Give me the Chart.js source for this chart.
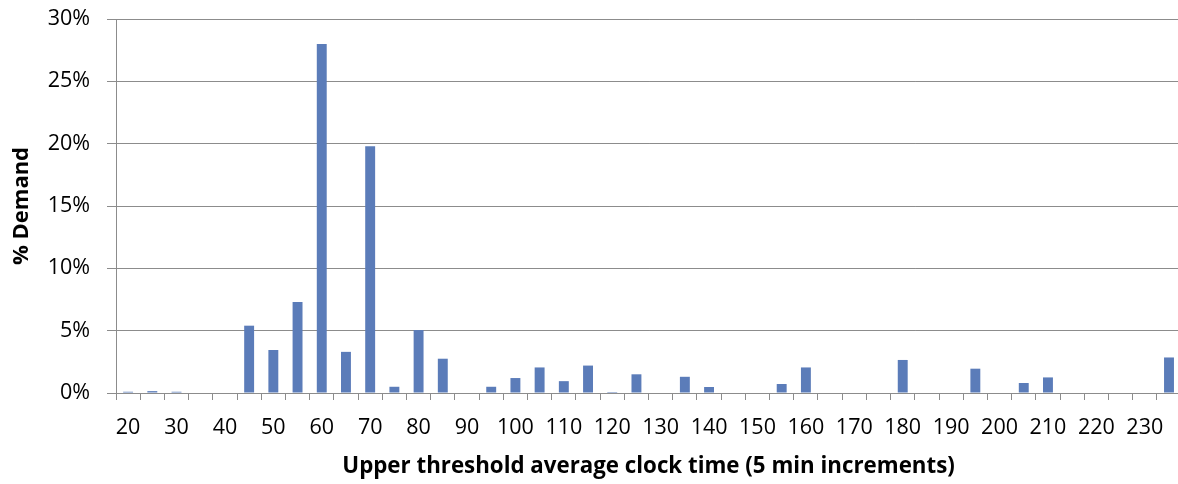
<!DOCTYPE html>
<html>
<head>
<meta charset="utf-8">
<script src="https://cdn.jsdelivr.net/npm/chart.js@4/dist/chart.umd.min.js"></script>
<style>
  html, body { margin: 0; padding: 0; background: #fff; overflow: hidden; }
  #wrap { width: 1184px; height: 484px; }
</style>
</head>
<body>
<div id="wrap"><canvas id="demandChart" width="1184" height="484"></canvas></div>
<script>
// Umbral superior (minutos, pasos de 5)
const thresholds = [20, 25, 30, 35, 40, 45, 50, 55, 60, 65, 70, 75, 80, 85, 90, 95, 100, 105, 110, 115,
    120, 125, 130, 135, 140, 145, 150, 155, 160, 165, 170, 175, 180, 185, 190, 195, 200, 205, 210, 215,
    220, 225, 230, 235];
// % de demanda por categoría
const demandPct = [0.1, 0.15, 0.1, 0, 0, 5.4, 3.45, 7.3, 28.0, 3.3, 19.8, 0.5, 5.05, 2.75, 0, 0.5, 1.2, 2.05, 0.95, 2.2,
    0.08, 1.5, 0, 1.3, 0.48, 0, 0, 0.72, 2.05, 0, 0, 0, 2.65, 0, 0, 1.95, 0, 0.8, 1.25, 0,
    0, 0, 0, 2.85];
const yTicks = [0, 5, 10, 15, 20, 25, 30];

const gridColor = '#8c8c8c';
const font = 'Open Sans';

const ctx = document.getElementById('demandChart').getContext('2d');
new Chart(ctx, {
    type: 'bar',
    data: {
        labels: thresholds,
        datasets: [{
            label: '% Demand',
            data: demandPct,
            backgroundColor: '#5b7cb9',
            borderWidth: 0,
            barPercentage: 0.41,
            categoryPercentage: 1
        }]
    },
    options: {
        responsive: false,
        animation: false,
        layout: { padding: { top: 19, right: 0, left: 0, bottom: 0 } },
        plugins: {
            legend: { display: false },
            tooltip: { enabled: false }
        },
        scales: {
            x: {
                offset: true,
                grid: { offset: true, drawOnChartArea: false, drawTicks: true, tickLength: 7, color: gridColor },
                border: { color: gridColor, width: 1 },
                ticks: {
                    autoSkip: false,
                    maxRotation: 0,
                    color: '#000',
                    padding: 15,
                    font: { family: font, size: 21.5 },
                    callback: function (v, i) { return i % 2 === 0 ? this.getLabelForValue(v) : ''; }
                },
                title: {
                    display: true,
                    text: 'Upper threshold average clock time (5 min increments)',
                    color: '#000',
                    font: { family: font, size: 22.3, weight: 'bold' },
                    padding: { top: 0, bottom: 4 }
                },
                afterFit: s => { s.height = 91; }
            },
            y: {
                min: 0,
                max: 30,
                afterBuildTicks: s => { s.ticks = yTicks.map(v => ({ value: v })); },
                grid: { color: gridColor, tickLength: 9 },
                border: { color: gridColor, width: 1 },
                ticks: {
                    color: '#000',
                    padding: 17,
                    font: { family: font, size: 21.5 },
                    callback: v => v + '%'
                },
                title: {
                    display: true,
                    text: '% Demand',
                    color: '#000',
                    font: { family: font, size: 22, weight: 'bold' },
                    padding: { top: 9, bottom: 0 }
                },
                // ancho fijo y sin relleno extra arriba/abajo
                afterFit: s => { s.width = 116; s.paddingTop = 0; s.paddingBottom = 0; }
            }
        }
    }
});
</script>
</body>
</html>
